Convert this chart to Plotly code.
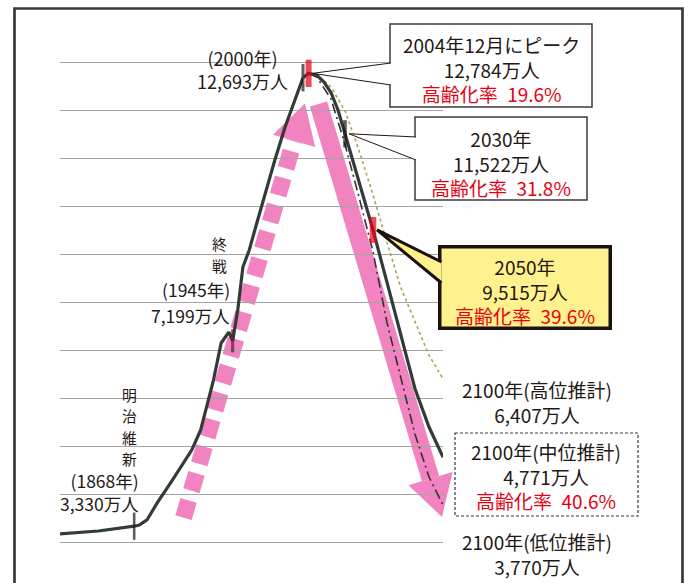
import math
import plotly.graph_objects as go

# ---- 総人口の推移（万人） ----
hist_years = [1810, 1840, 1868, 1872, 1878, 1886, 1898, 1913, 1920, 1926, 1930,
              1936, 1942, 1945, 1949, 1953, 1958, 1963, 1969, 1978, 1986, 1994, 2000]
hist_pop = [3170, 3230, 3330, 3355, 3460, 3815, 4295, 4920, 5340, 5965, 6380,
            7155, 7380, 7199, 7845, 8740, 9095, 9575, 10140, 10975, 11665, 12230, 12693]

# 将来推計（中位・高位・低位）
mid_years = [2000, 2004, 2010, 2015, 2020, 2025, 2030, 2040, 2050, 2060, 2070, 2080, 2090, 2100]
mid_pop = [12693, 12784, 12740, 12600, 12380, 12020, 11522, 10520, 9515, 8420, 7330, 6200, 5400, 4771]

high_years = [2004, 2010, 2020, 2030, 2040, 2050, 2060, 2070, 2080, 2090, 2100]
high_pop = [12784, 12750, 12500, 12000, 11180, 10250, 9250, 8300, 7600, 6900, 6407]

low_years = [2004, 2010, 2020, 2030, 2040, 2050, 2060, 2070, 2080, 2090, 2100]
low_pop = [12784, 12700, 12250, 11300, 10200, 9060, 7580, 6440, 5250, 4360, 3770]

# 節目の年
event_years_hist = [1868, 1945, 2000]
event_pop_hist = [3330, 7199, 12693]
event_years_proj = [2004, 2030, 2050]
event_pop_proj = [12784, 11522, 9515]

# 高齢化率（%）
aging_years = [2004, 2030, 2050, 2100]
aging_pct = [19.6, 31.8, 39.6, 40.6]

grid_values = [3000, 4000, 5000, 6000, 7000, 8000, 9000, 10000, 11000, 12000, 13000]

# ---- layout constants ----
W, H = 690, 583
X1_PX, X1_RANGE = (60, 303), (1810, 2000)
X2_PX, X2_RANGE = (303, 443), (2000, 2100)
Y_RANGE = (2144, 14315)

INK = "#231815"
RED = "#e60012"
LINE = "#323c36"
PINK = "#f083c0"
OLIVE = "#a9a545"
BORDER = "#3e3a39"
YELLOW = "#fff28e"
FONT = "Noto Sans CJK JP"


def fx(px):
    return px / W


def fy(py):
    return 1 - py / H


def x2_px(year):
    return X2_PX[0] + (year - X2_RANGE[0]) / (X2_RANGE[1] - X2_RANGE[0]) * (X2_PX[1] - X2_PX[0])


def y_px(v):
    return H * (1 - (v - Y_RANGE[0]) / (Y_RANGE[1] - Y_RANGE[0]))


def path(points, close=False):
    s = "M " + " L ".join(f"{fx(x):.5f},{fy(y):.5f}" for x, y in points)
    return s + (" Z" if close else "")


def arrow(start, tip, shaft_w, head_len, head_half, dash=None):
    dx, dy = tip[0] - start[0], tip[1] - start[1]
    n = math.hypot(dx, dy)
    ux, uy = dx / n, dy / n
    bx, by = tip[0] - head_len * ux, tip[1] - head_len * uy
    px_, py_ = -uy, ux
    shaft = dict(type="line", xref="paper", yref="paper", layer="below",
                 x0=fx(start[0]), y0=fy(start[1]), x1=fx(bx), y1=fy(by),
                 line=dict(color=PINK, width=shaft_w, dash=dash))
    head = dict(type="path", xref="paper", yref="paper", layer="below",
                path=path([(bx + head_half * px_, by + head_half * py_), tip,
                           (bx - head_half * px_, by - head_half * py_)], close=True),
                fillcolor=PINK, line=dict(width=0))
    return [shaft, head]


def rect(x0, y0, x1, y1, fill, color, width, dash=None):
    return dict(type="rect", xref="paper", yref="paper", layer="above",
                x0=fx(x0), y0=fy(y0), x1=fx(x1), y1=fy(y1),
                fillcolor=fill, line=dict(color=color, width=width, dash=dash))


def wedge(tip, bx, by0, by1, fill, color, width):
    return dict(type="path", xref="paper", yref="paper", layer="above",
                path=path([(bx, by0), tip, (bx, by1)]),
                fillcolor=fill, line=dict(color=color, width=width))


fig = go.Figure()

# 将来推計の線
fig.add_trace(go.Scatter(x=low_years, y=low_pop, xaxis="x2", yaxis="y2", mode="lines",
                         line=dict(color="#3b2d35", width=1.6, dash="10px,4px,2px,4px"),
                         hoverinfo="skip"))
fig.add_trace(go.Scatter(x=high_years, y=high_pop, xaxis="x2", yaxis="y2", mode="lines",
                         line=dict(color=OLIVE, width=1.6, dash="dot"), hoverinfo="skip"))
fig.add_trace(go.Scatter(x=mid_years, y=mid_pop, xaxis="x2", yaxis="y2", mode="lines",
                         line=dict(color=LINE, width=3.2), hoverinfo="skip"))
# 実績
fig.add_trace(go.Scatter(x=hist_years, y=hist_pop, xaxis="x", yaxis="y", mode="lines",
                         line=dict(color=LINE, width=3.2), hoverinfo="skip"))

# 節目の目印
fig.add_trace(go.Scatter(x=event_years_hist, y=event_pop_hist, xaxis="x", yaxis="y", mode="markers",
                         cliponaxis=False, hoverinfo="skip",
                         marker=dict(symbol="line-ns", size=[19.5, 16.5, 19.5],
                                     line=dict(color=[INK, "#5a2040", INK], width=[2.6, 3.2, 3.0]))))
fig.add_trace(go.Scatter(x=event_years_proj, y=event_pop_proj, xaxis="x2", yaxis="y2", mode="markers",
                         cliponaxis=False, hoverinfo="skip",
                         marker=dict(symbol="line-ns", size=[19.5, 19.5, 18.5],
                                     line=dict(color=[RED, INK, RED], width=[6.0, 3.6, 6.5]))))

shapes = []
# 増加・減少の矢印
shapes += arrow((183.5, 517.6), (305, 103.5), 17, 39, 22, dash="18px,10px")
shapes += arrow((318.5, 104), (442, 517), 18, 40, 23)

# 吹き出し
peak_tip = (x2_px(event_years_proj[0]) + 4, y_px(event_pop_proj[0]))
tip2030 = (x2_px(event_years_proj[1]) + 4, y_px(event_pop_proj[1]))
tip2050 = (x2_px(event_years_proj[2]) + 4, y_px(event_pop_proj[2]))

shapes.append(rect(390, 24, 592, 107, "white", BORDER, 1.5))
shapes.append(wedge(peak_tip, 391, 63, 85, "white", INK, 1))
shapes.append(rect(415, 117, 587, 200, "white", BORDER, 1.5))
shapes.append(wedge(tip2030, 416, 137, 160, "white", INK, 1))
shapes.append(rect(439.75, 246.75, 610.25, 328.25, YELLOW, "#1a1311", 3.5))
shapes.append(wedge(tip2050, 441.5, 262, 283, YELLOW, "#1a1311", 3))
shapes.append(rect(455, 433, 638, 516, "white", BORDER, 1.2, dash="3px,2px"))

# 外枠
shapes.append(dict(type="rect", xref="paper", yref="paper", layer="above",
                   x0=fx(14.5), y0=fy(8.5), x1=fx(682.5), y1=-0.1,
                   line=dict(color="#403838", width=2.7)))

fig.update_layout(shapes=shapes)


# ---- 文字 ----
def man(v):
    return f"{v:,}万人"


def rate(p):
    return f"<span style='color:{RED}'>高齢化率\u2002{p}%</span>"


def block(*lines):
    return "<br>".join(lines)


# (中心x, 中心y, 文字, 大きさ, 揃え)
texts = [
    (491, 68.5, block(f"{event_years_proj[0]}年12月にピーク", man(event_pop_proj[0]), rate(aging_pct[0])), 19, "center"),
    (501, 163, block(f"{event_years_proj[1]}年", man(event_pop_proj[1]), rate(aging_pct[1])), 19, "center"),
    (525, 291, block(f"{event_years_proj[2]}年", man(event_pop_proj[2]), rate(aging_pct[2])), 19, "center"),
    (537, 401.5, block(f"{high_years[-1]}年(高位推計)", man(high_pop[-1])), 19, "center"),
    (546, 476, block(f"{mid_years[-1]}年(中位推計)", man(mid_pop[-1]), rate(aging_pct[3])), 19, "center"),
    (537, 554, block(f"{low_years[-1]}年(低位推計)", man(low_pop[-1])), 19, "center"),
    (242, 69.5, block(f"({event_years_hist[2]}年)", man(event_pop_hist[2])), 18, "center"),
    (231, 289, f"({event_years_hist[1]}年)", 17.5, "right"),
    (231, 315, man(event_pop_hist[1]), 17.5, "right"),
    (140, 492, block(f"({event_years_hist[0]}年)", man(event_pop_hist[0])), 17.5, "right"),
]

# 縦書きの見出し（1文字ずつ）
vertical = [
    (220, [243, 265], "終戦"),
    (129, [394, 415.5, 437, 458.5], "明治維新"),
]

for x, y, t, s, al in texts:
    fig.add_annotation(x=fx(x), y=fy(y), xref="paper", yref="paper", text=t, showarrow=False,
                       xanchor=al, yanchor="middle", align=al, borderpad=0,
                       font=dict(family=FONT, size=s, color=INK))

for x, ys, word in vertical:
    for y, ch in zip(ys, word):
        fig.add_annotation(x=fx(x), y=fy(y), xref="paper", yref="paper", text=ch, showarrow=False,
                           xanchor="center", yanchor="middle", borderpad=0,
                           font=dict(family=FONT, size=14.8, color=INK))

axis_hidden = dict(visible=False, fixedrange=True)
yaxis_common = dict(domain=[0, 1], range=list(Y_RANGE), tickvals=grid_values, showticklabels=False,
                    ticks="", showgrid=True, gridcolor="#a4a4a4", gridwidth=1, zeroline=False,
                    showline=False, fixedrange=True)

fig.update_layout(
    width=W, height=H,
    margin=dict(l=0, r=0, t=0, b=0),
    paper_bgcolor="white",
    plot_bgcolor="rgba(0,0,0,0)",
    showlegend=False,
    xaxis=dict(domain=[fx(X1_PX[0]), fx(X1_PX[1])], range=list(X1_RANGE), **axis_hidden),
    xaxis2=dict(domain=[fx(X2_PX[0]), fx(X2_PX[1])], range=list(X2_RANGE), **axis_hidden),
    yaxis=dict(anchor="x", **yaxis_common),
    yaxis2=dict(anchor="x2", matches="y", **yaxis_common),
)

fig.write_html("out.html")
